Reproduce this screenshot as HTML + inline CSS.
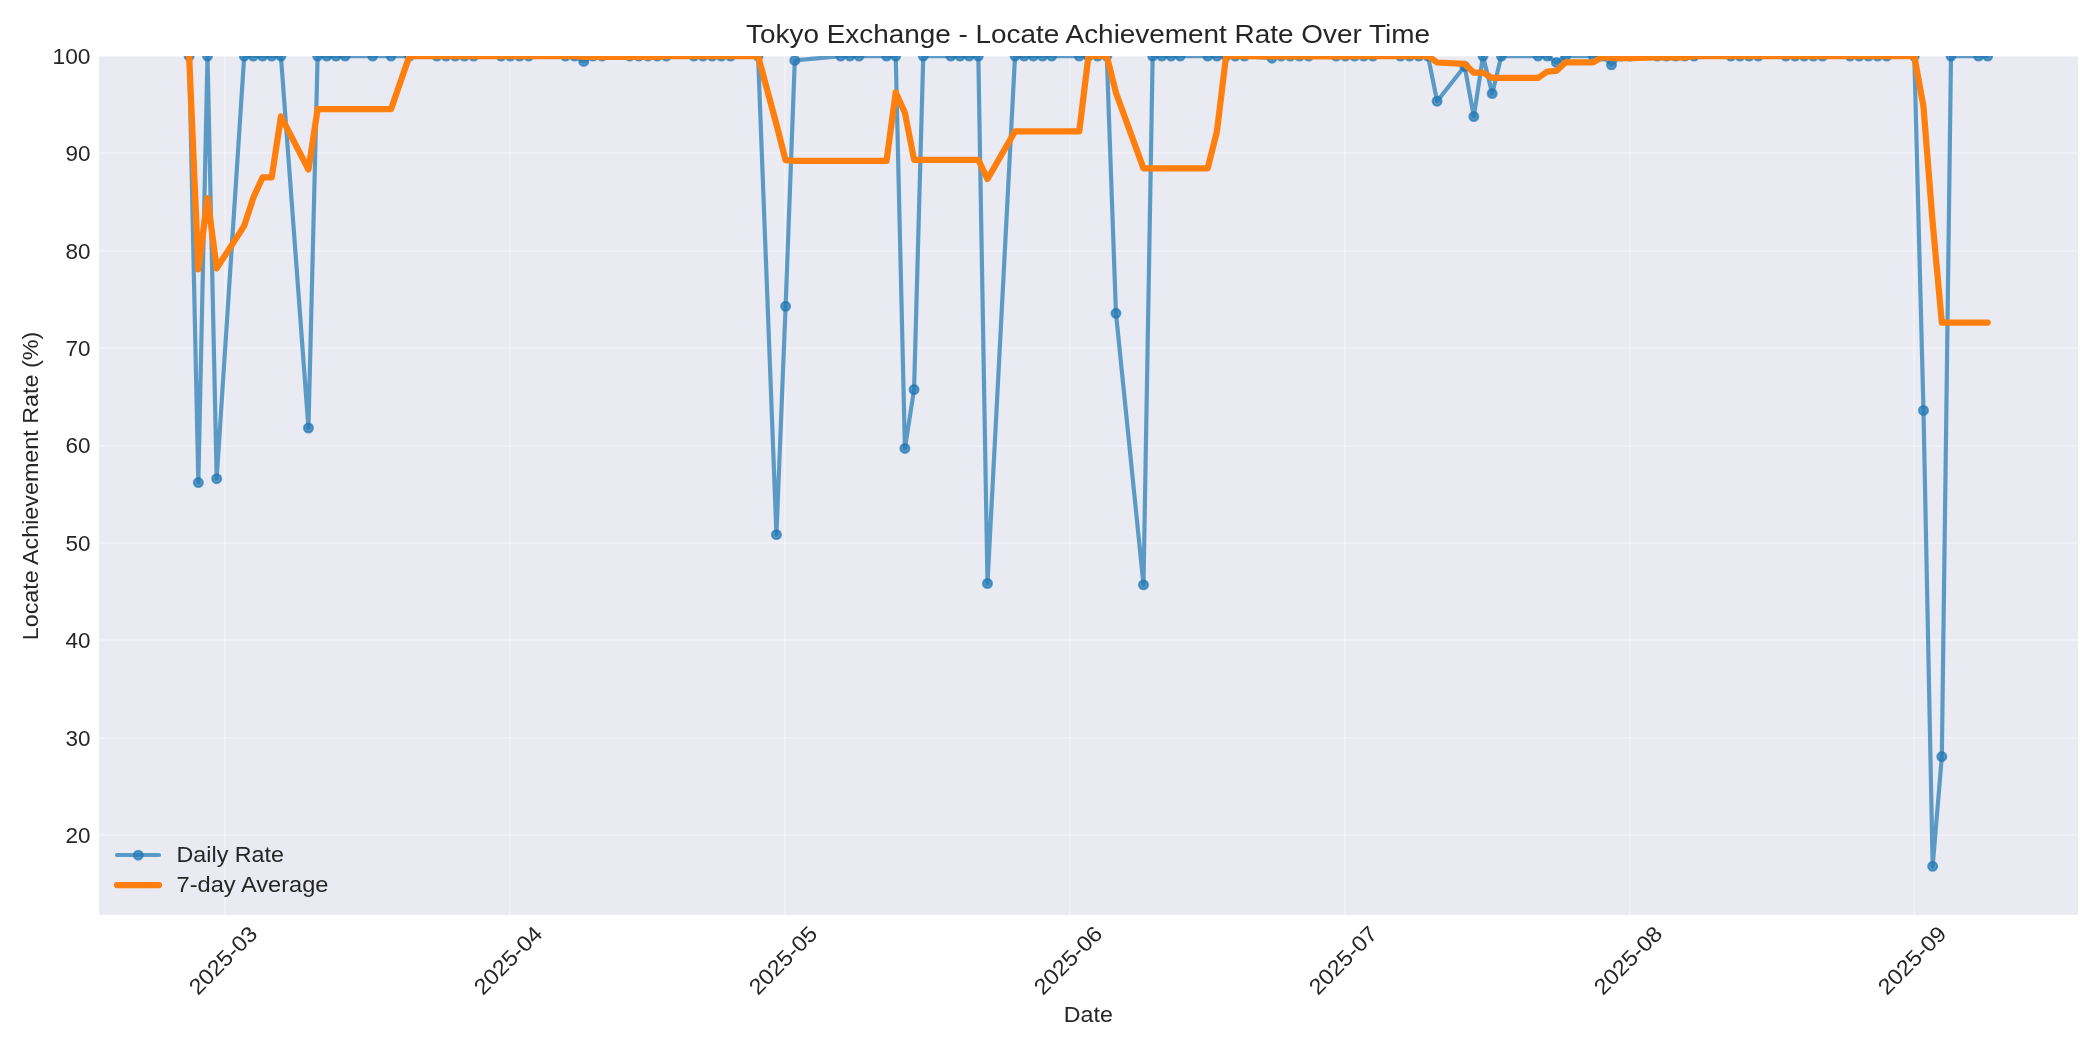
<!DOCTYPE html><html><head><meta charset="utf-8"><title>Tokyo Exchange - Locate Achievement Rate Over Time</title><style>html,body{margin:0;padding:0;background:#fff;}svg{display:block;will-change:transform;}</style></head><body><svg width="2100" height="1050" viewBox="0 0 2100 1050"><rect x="0" y="0" width="2100" height="1050" fill="#ffffff"/><defs><clipPath id="ax"><rect x="99.0" y="56.1" width="1979.0" height="858.8"/></clipPath></defs><rect x="99.0" y="56.1" width="1979.0" height="858.8" fill="#eaeaf2"/><g stroke="#ffffff" stroke-opacity="0.3" stroke-width="2" clip-path="url(#ax)"><line x1="99.0" y1="835" x2="2078.0" y2="835"/><line x1="99.0" y1="738" x2="2078.0" y2="738"/><line x1="99.0" y1="640" x2="2078.0" y2="640"/><line x1="99.0" y1="543" x2="2078.0" y2="543"/><line x1="99.0" y1="446" x2="2078.0" y2="446"/><line x1="99.0" y1="348" x2="2078.0" y2="348"/><line x1="99.0" y1="251" x2="2078.0" y2="251"/><line x1="99.0" y1="153" x2="2078.0" y2="153"/><line x1="99.0" y1="56" x2="2078.0" y2="56"/><line x1="225" y1="56.1" x2="225" y2="914.9"/><line x1="510" y1="56.1" x2="510" y2="914.9"/><line x1="785" y1="56.1" x2="785" y2="914.9"/><line x1="1070" y1="56.1" x2="1070" y2="914.9"/><line x1="1345" y1="56.1" x2="1345" y2="914.9"/><line x1="1630" y1="56.1" x2="1630" y2="914.9"/><line x1="1914" y1="56.1" x2="1914" y2="914.9"/></g><g clip-path="url(#ax)"><polyline points="189.15,56.05 198.33,482.53 207.51,56.05 216.68,478.64 244.21,56.05 253.39,56.05 262.57,56.05 271.74,56.05 280.92,56.05 308.45,428.00 317.62,56.05 326.80,56.05 335.98,56.05 345.15,56.05 372.68,56.05 391.03,56.05 409.39,56.05 436.91,56.05 446.09,56.05 455.27,56.05 464.44,56.05 473.62,56.05 501.15,56.05 510.33,56.05 519.50,56.05 528.68,56.05 565.38,56.05 574.56,56.05 583.74,61.41 592.91,56.05 602.09,56.05 629.62,56.05 638.79,56.05 647.97,56.05 657.15,56.05 666.32,56.05 693.85,56.05 703.03,56.05 712.20,56.05 721.38,56.05 730.56,56.05 758.09,56.05 776.44,534.62 785.61,306.29 794.79,60.43 840.67,56.05 849.85,56.05 859.02,56.05 886.55,56.05 895.73,56.05 904.91,448.45 914.08,389.54 923.26,56.05 950.79,56.05 959.96,56.05 969.14,56.05 978.32,56.05 987.49,583.50 1015.02,56.05 1024.20,56.05 1033.37,56.05 1042.55,56.05 1051.73,56.05 1079.26,56.05 1088.43,56.05 1097.61,56.05 1106.78,56.05 1115.96,313.30 1143.49,584.77 1152.67,56.05 1161.84,56.05 1171.02,56.05 1180.20,56.05 1207.72,56.05 1216.90,56.05 1226.08,56.05 1235.25,56.05 1244.43,56.05 1271.96,58.19 1281.13,56.05 1290.31,56.05 1299.49,56.05 1308.66,56.05 1336.19,56.05 1345.37,56.05 1354.54,56.05 1363.72,56.05 1372.90,56.05 1400.43,56.05 1409.60,56.05 1418.78,56.05 1427.96,56.05 1437.13,101.23 1464.66,66.27 1473.84,116.61 1483.01,56.05 1492.19,93.54 1501.37,56.05 1538.07,56.05 1547.25,56.05 1556.42,62.48 1565.60,56.05 1593.13,56.05 1602.30,56.05 1611.48,64.81 1620.66,56.05 1629.83,56.05 1657.36,56.05 1666.54,56.05 1675.72,56.05 1684.89,56.05 1694.07,56.05 1730.77,56.05 1739.95,56.05 1749.13,56.05 1758.30,56.05 1785.83,56.05 1795.01,56.05 1804.18,56.05 1813.36,56.05 1822.54,56.05 1850.07,56.05 1859.24,56.05 1868.42,56.05 1877.59,56.05 1886.77,56.05 1914.30,56.05 1923.48,410.48 1932.65,866.36 1941.83,756.53 1951.00,56.05 1978.53,56.05 1987.71,56.05" fill="none" stroke="#1f77b4" stroke-opacity="0.7" stroke-width="4.17" stroke-linejoin="round" stroke-linecap="round"/><g fill="#1f77b4" fill-opacity="0.7" stroke="#1f77b4" stroke-opacity="0.7" stroke-width="2.08"><circle cx="189.15" cy="56.05" r="4.45"/><circle cx="198.33" cy="482.53" r="4.45"/><circle cx="207.51" cy="56.05" r="4.45"/><circle cx="216.68" cy="478.64" r="4.45"/><circle cx="244.21" cy="56.05" r="4.45"/><circle cx="253.39" cy="56.05" r="4.45"/><circle cx="262.57" cy="56.05" r="4.45"/><circle cx="271.74" cy="56.05" r="4.45"/><circle cx="280.92" cy="56.05" r="4.45"/><circle cx="308.45" cy="428.00" r="4.45"/><circle cx="317.62" cy="56.05" r="4.45"/><circle cx="326.80" cy="56.05" r="4.45"/><circle cx="335.98" cy="56.05" r="4.45"/><circle cx="345.15" cy="56.05" r="4.45"/><circle cx="372.68" cy="56.05" r="4.45"/><circle cx="391.03" cy="56.05" r="4.45"/><circle cx="409.39" cy="56.05" r="4.45"/><circle cx="436.91" cy="56.05" r="4.45"/><circle cx="446.09" cy="56.05" r="4.45"/><circle cx="455.27" cy="56.05" r="4.45"/><circle cx="464.44" cy="56.05" r="4.45"/><circle cx="473.62" cy="56.05" r="4.45"/><circle cx="501.15" cy="56.05" r="4.45"/><circle cx="510.33" cy="56.05" r="4.45"/><circle cx="519.50" cy="56.05" r="4.45"/><circle cx="528.68" cy="56.05" r="4.45"/><circle cx="565.38" cy="56.05" r="4.45"/><circle cx="574.56" cy="56.05" r="4.45"/><circle cx="583.74" cy="61.41" r="4.45"/><circle cx="592.91" cy="56.05" r="4.45"/><circle cx="602.09" cy="56.05" r="4.45"/><circle cx="629.62" cy="56.05" r="4.45"/><circle cx="638.79" cy="56.05" r="4.45"/><circle cx="647.97" cy="56.05" r="4.45"/><circle cx="657.15" cy="56.05" r="4.45"/><circle cx="666.32" cy="56.05" r="4.45"/><circle cx="693.85" cy="56.05" r="4.45"/><circle cx="703.03" cy="56.05" r="4.45"/><circle cx="712.20" cy="56.05" r="4.45"/><circle cx="721.38" cy="56.05" r="4.45"/><circle cx="730.56" cy="56.05" r="4.45"/><circle cx="758.09" cy="56.05" r="4.45"/><circle cx="776.44" cy="534.62" r="4.45"/><circle cx="785.61" cy="306.29" r="4.45"/><circle cx="794.79" cy="60.43" r="4.45"/><circle cx="840.67" cy="56.05" r="4.45"/><circle cx="849.85" cy="56.05" r="4.45"/><circle cx="859.02" cy="56.05" r="4.45"/><circle cx="886.55" cy="56.05" r="4.45"/><circle cx="895.73" cy="56.05" r="4.45"/><circle cx="904.91" cy="448.45" r="4.45"/><circle cx="914.08" cy="389.54" r="4.45"/><circle cx="923.26" cy="56.05" r="4.45"/><circle cx="950.79" cy="56.05" r="4.45"/><circle cx="959.96" cy="56.05" r="4.45"/><circle cx="969.14" cy="56.05" r="4.45"/><circle cx="978.32" cy="56.05" r="4.45"/><circle cx="987.49" cy="583.50" r="4.45"/><circle cx="1015.02" cy="56.05" r="4.45"/><circle cx="1024.20" cy="56.05" r="4.45"/><circle cx="1033.37" cy="56.05" r="4.45"/><circle cx="1042.55" cy="56.05" r="4.45"/><circle cx="1051.73" cy="56.05" r="4.45"/><circle cx="1079.26" cy="56.05" r="4.45"/><circle cx="1088.43" cy="56.05" r="4.45"/><circle cx="1097.61" cy="56.05" r="4.45"/><circle cx="1106.78" cy="56.05" r="4.45"/><circle cx="1115.96" cy="313.30" r="4.45"/><circle cx="1143.49" cy="584.77" r="4.45"/><circle cx="1152.67" cy="56.05" r="4.45"/><circle cx="1161.84" cy="56.05" r="4.45"/><circle cx="1171.02" cy="56.05" r="4.45"/><circle cx="1180.20" cy="56.05" r="4.45"/><circle cx="1207.72" cy="56.05" r="4.45"/><circle cx="1216.90" cy="56.05" r="4.45"/><circle cx="1226.08" cy="56.05" r="4.45"/><circle cx="1235.25" cy="56.05" r="4.45"/><circle cx="1244.43" cy="56.05" r="4.45"/><circle cx="1271.96" cy="58.19" r="4.45"/><circle cx="1281.13" cy="56.05" r="4.45"/><circle cx="1290.31" cy="56.05" r="4.45"/><circle cx="1299.49" cy="56.05" r="4.45"/><circle cx="1308.66" cy="56.05" r="4.45"/><circle cx="1336.19" cy="56.05" r="4.45"/><circle cx="1345.37" cy="56.05" r="4.45"/><circle cx="1354.54" cy="56.05" r="4.45"/><circle cx="1363.72" cy="56.05" r="4.45"/><circle cx="1372.90" cy="56.05" r="4.45"/><circle cx="1400.43" cy="56.05" r="4.45"/><circle cx="1409.60" cy="56.05" r="4.45"/><circle cx="1418.78" cy="56.05" r="4.45"/><circle cx="1427.96" cy="56.05" r="4.45"/><circle cx="1437.13" cy="101.23" r="4.45"/><circle cx="1464.66" cy="66.27" r="4.45"/><circle cx="1473.84" cy="116.61" r="4.45"/><circle cx="1483.01" cy="56.05" r="4.45"/><circle cx="1492.19" cy="93.54" r="4.45"/><circle cx="1501.37" cy="56.05" r="4.45"/><circle cx="1538.07" cy="56.05" r="4.45"/><circle cx="1547.25" cy="56.05" r="4.45"/><circle cx="1556.42" cy="62.48" r="4.45"/><circle cx="1565.60" cy="56.05" r="4.45"/><circle cx="1593.13" cy="56.05" r="4.45"/><circle cx="1602.30" cy="56.05" r="4.45"/><circle cx="1611.48" cy="64.81" r="4.45"/><circle cx="1620.66" cy="56.05" r="4.45"/><circle cx="1629.83" cy="56.05" r="4.45"/><circle cx="1657.36" cy="56.05" r="4.45"/><circle cx="1666.54" cy="56.05" r="4.45"/><circle cx="1675.72" cy="56.05" r="4.45"/><circle cx="1684.89" cy="56.05" r="4.45"/><circle cx="1694.07" cy="56.05" r="4.45"/><circle cx="1730.77" cy="56.05" r="4.45"/><circle cx="1739.95" cy="56.05" r="4.45"/><circle cx="1749.13" cy="56.05" r="4.45"/><circle cx="1758.30" cy="56.05" r="4.45"/><circle cx="1785.83" cy="56.05" r="4.45"/><circle cx="1795.01" cy="56.05" r="4.45"/><circle cx="1804.18" cy="56.05" r="4.45"/><circle cx="1813.36" cy="56.05" r="4.45"/><circle cx="1822.54" cy="56.05" r="4.45"/><circle cx="1850.07" cy="56.05" r="4.45"/><circle cx="1859.24" cy="56.05" r="4.45"/><circle cx="1868.42" cy="56.05" r="4.45"/><circle cx="1877.59" cy="56.05" r="4.45"/><circle cx="1886.77" cy="56.05" r="4.45"/><circle cx="1914.30" cy="56.05" r="4.45"/><circle cx="1923.48" cy="410.48" r="4.45"/><circle cx="1932.65" cy="866.36" r="4.45"/><circle cx="1941.83" cy="756.53" r="4.45"/><circle cx="1951.00" cy="56.05" r="4.45"/><circle cx="1978.53" cy="56.05" r="4.45"/><circle cx="1987.71" cy="56.05" r="4.45"/></g><polyline points="189.15,56.05 198.33,269.29 207.51,198.21 216.68,268.32 244.21,225.86 253.39,197.56 262.57,177.35 271.74,177.35 280.92,116.42 308.45,169.56 317.62,109.19 326.80,109.19 335.98,109.19 345.15,109.19 372.68,109.19 391.03,109.19 409.39,56.05 436.91,56.05 446.09,56.05 455.27,56.05 464.44,56.05 473.62,56.05 501.15,56.05 510.33,56.05 519.50,56.05 528.68,56.05 565.38,56.05 574.56,56.05 583.74,56.82 592.91,56.82 602.09,56.82 629.62,56.82 638.79,56.82 647.97,56.82 657.15,56.82 666.32,56.05 693.85,56.05 703.03,56.05 712.20,56.05 721.38,56.05 730.56,56.05 758.09,56.05 776.44,124.42 785.61,160.17 794.79,160.79 840.67,160.79 849.85,160.79 859.02,160.79 886.55,160.79 895.73,92.42 904.91,112.73 914.08,159.75 923.26,159.75 950.79,159.75 959.96,159.75 969.14,159.75 978.32,159.75 987.49,179.04 1015.02,131.40 1024.20,131.40 1033.37,131.40 1042.55,131.40 1051.73,131.40 1079.26,131.40 1088.43,56.05 1097.61,56.05 1106.78,56.05 1115.96,92.80 1143.49,168.33 1152.67,168.33 1161.84,168.33 1171.02,168.33 1180.20,168.33 1207.72,168.33 1216.90,131.58 1226.08,56.05 1235.25,56.05 1244.43,56.05 1271.96,56.36 1281.13,56.36 1290.31,56.36 1299.49,56.36 1308.66,56.36 1336.19,56.36 1345.37,56.36 1354.54,56.05 1363.72,56.05 1372.90,56.05 1400.43,56.05 1409.60,56.05 1418.78,56.05 1427.96,56.05 1437.13,62.50 1464.66,63.96 1473.84,72.62 1483.01,72.62 1492.19,77.97 1501.37,77.97 1538.07,77.97 1547.25,71.52 1556.42,70.98 1565.60,62.32 1593.13,62.32 1602.30,56.97 1611.48,58.22 1620.66,58.22 1629.83,58.22 1657.36,57.30 1666.54,57.30 1675.72,57.30 1684.89,57.30 1694.07,56.05 1730.77,56.05 1739.95,56.05 1749.13,56.05 1758.30,56.05 1785.83,56.05 1795.01,56.05 1804.18,56.05 1813.36,56.05 1822.54,56.05 1850.07,56.05 1859.24,56.05 1868.42,56.05 1877.59,56.05 1886.77,56.05 1914.30,56.05 1923.48,106.68 1932.65,222.44 1941.83,322.51 1951.00,322.51 1978.53,322.51 1987.71,322.51" fill="none" stroke="#ff7f0e" stroke-width="6.25" stroke-linejoin="round" stroke-linecap="round"/></g><line x1="117" y1="855" x2="159" y2="855" stroke="#1f77b4" stroke-opacity="0.7" stroke-width="4.17" stroke-linecap="round"/><circle cx="138.3" cy="855.2" r="4.45" fill="#1f77b4" fill-opacity="0.7" stroke="#1f77b4" stroke-opacity="0.7" stroke-width="2.08"/><line x1="117" y1="885" x2="159" y2="885" stroke="#ff7f0e" stroke-width="6.25" stroke-linecap="round"/><g font-family='"Liberation Sans", sans-serif' fill="#262626"><text x="176.5" y="862" font-size="22" text-anchor="start" textLength="107.5" lengthAdjust="spacingAndGlyphs">Daily Rate</text><text x="176.5" y="891.7" font-size="22" text-anchor="start" textLength="152" lengthAdjust="spacingAndGlyphs">7-day Average</text><text x="746" y="42.9" font-size="25" text-anchor="start" textLength="684" lengthAdjust="spacingAndGlyphs">Tokyo Exchange - Locate Achievement Rate Over Time</text><text x="90.5" y="842.91" font-size="22" text-anchor="end" textLength="25" lengthAdjust="spacingAndGlyphs">20</text><text x="90.5" y="745.54" font-size="22" text-anchor="end" textLength="25" lengthAdjust="spacingAndGlyphs">30</text><text x="90.5" y="648.17" font-size="22" text-anchor="end" textLength="25" lengthAdjust="spacingAndGlyphs">40</text><text x="90.5" y="550.80" font-size="22" text-anchor="end" textLength="25" lengthAdjust="spacingAndGlyphs">50</text><text x="90.5" y="453.43" font-size="22" text-anchor="end" textLength="25" lengthAdjust="spacingAndGlyphs">60</text><text x="90.5" y="356.06" font-size="22" text-anchor="end" textLength="25" lengthAdjust="spacingAndGlyphs">70</text><text x="90.5" y="258.69" font-size="22" text-anchor="end" textLength="25" lengthAdjust="spacingAndGlyphs">80</text><text x="90.5" y="161.32" font-size="22" text-anchor="end" textLength="25" lengthAdjust="spacingAndGlyphs">90</text><text x="90.5" y="63.95" font-size="22" text-anchor="end" textLength="38" lengthAdjust="spacingAndGlyphs">100</text><text transform="translate(37.6,486) rotate(-90)" x="0" y="0" font-size="22" text-anchor="middle" textLength="308.5" lengthAdjust="spacingAndGlyphs">Locate Achievement Rate (%)</text><text x="1088.3" y="1021.7" font-size="22" text-anchor="middle" textLength="49" lengthAdjust="spacingAndGlyphs">Date</text><text transform="translate(222.70,960.0) rotate(-45)" x="0" y="7.9" font-size="22" text-anchor="middle" textLength="86" lengthAdjust="spacingAndGlyphs">2025-03</text><text transform="translate(507.70,960.0) rotate(-45)" x="0" y="7.9" font-size="22" text-anchor="middle" textLength="86" lengthAdjust="spacingAndGlyphs">2025-04</text><text transform="translate(782.70,960.0) rotate(-45)" x="0" y="7.9" font-size="22" text-anchor="middle" textLength="86" lengthAdjust="spacingAndGlyphs">2025-05</text><text transform="translate(1067.70,960.0) rotate(-45)" x="0" y="7.9" font-size="22" text-anchor="middle" textLength="86" lengthAdjust="spacingAndGlyphs">2025-06</text><text transform="translate(1342.70,960.0) rotate(-45)" x="0" y="7.9" font-size="22" text-anchor="middle" textLength="86" lengthAdjust="spacingAndGlyphs">2025-07</text><text transform="translate(1627.70,960.0) rotate(-45)" x="0" y="7.9" font-size="22" text-anchor="middle" textLength="86" lengthAdjust="spacingAndGlyphs">2025-08</text><text transform="translate(1911.70,960.0) rotate(-45)" x="0" y="7.9" font-size="22" text-anchor="middle" textLength="86" lengthAdjust="spacingAndGlyphs">2025-09</text></g></svg></body></html>
